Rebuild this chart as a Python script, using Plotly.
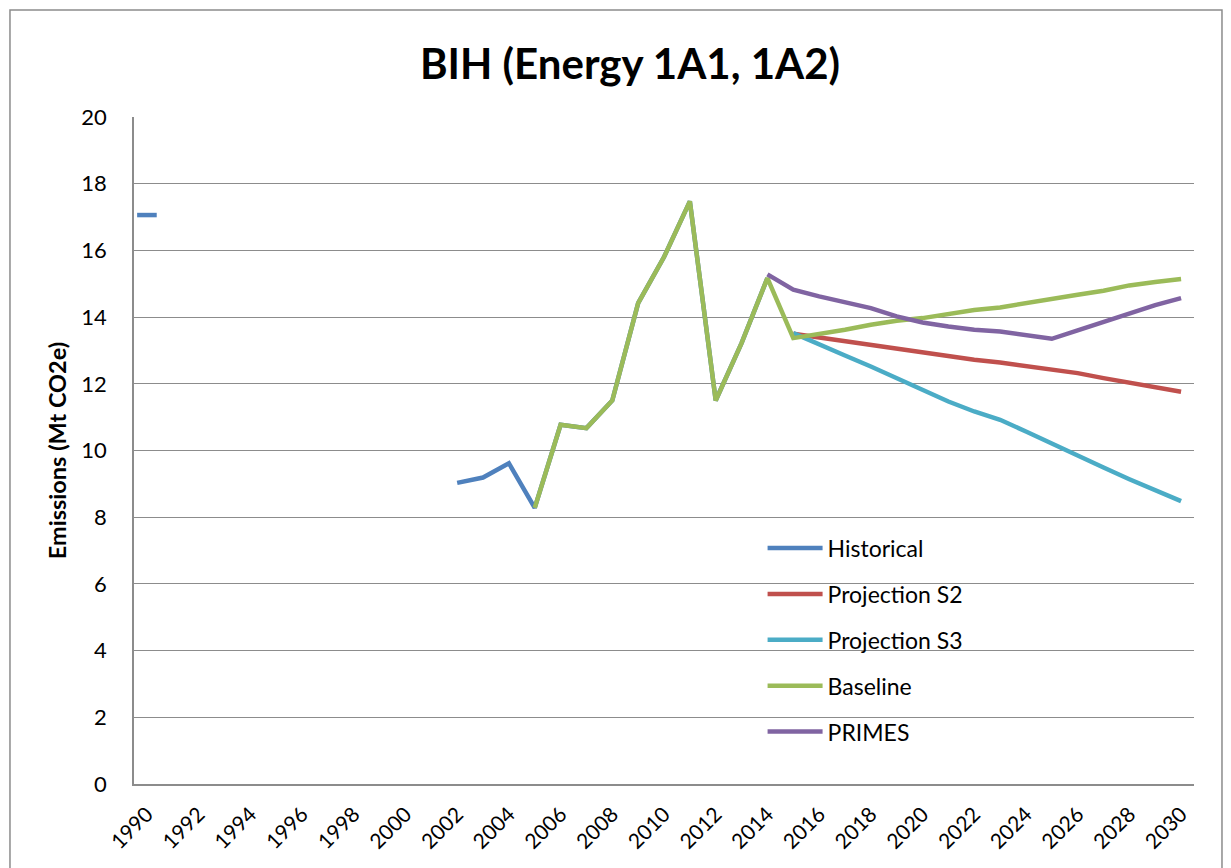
import plotly.graph_objects as go

# =========================
# DATA
# =========================
years = [str(y) for y in range(1990, 2031)]

# values by year, None where the series has no point
historical = (
    [17.06] + [None] * 11
    + [9.03, 9.19, 9.62, 8.28, 10.77, 10.67, 11.50, 14.42, 15.80, 17.47, 11.50, 13.22, 15.17]
    + [None] * 16
)
projection_s2 = (
    [None] * 25
    + [13.50, 13.39, 13.25, 13.15, 13.05, 12.94, 12.84, 12.72, 12.64, 12.54,
       12.44, 12.32, 12.17, 12.04, 11.89, 11.76]
)
projection_s3 = (
    [None] * 25
    + [13.52, 13.17, 12.85, 12.52, 12.17, 11.82, 11.47, 11.17, 10.92, 10.57,
       10.20, 9.85, 9.49, 9.14, 8.81, 8.48]
)
baseline = (
    [None] * 15
    + [8.28, 10.77, 10.67, 11.50, 14.42, 15.80, 17.47, 11.50, 13.22, 15.17]
    + [13.37, 13.49, 13.62, 13.77, 13.89, 13.97, 14.09, 14.21, 14.29, 14.42,
       14.57, 14.67, 14.79, 14.95, 15.05, 15.14]
)
primes = (
    [None] * 24
    + [15.28, 14.82, 14.62, 14.45, 14.27, 14.02, 13.84, 13.72, 13.62, 13.57, 13.47,
       13.35, 13.60, 13.86, 14.12, 14.36, 14.57]
)

series = [
    ("Historical", historical, "#4F81BD"),
    ("Projection S2", projection_s2, "#C0504D"),
    ("Projection S3", projection_s3, "#4BACC6"),
    ("Baseline", baseline, "#9BBB59"),
    ("PRIMES", primes, "#8064A2"),
]

FONT = "Lato, 'Open Sans', sans-serif"

fig = go.Figure()

for name, values, color in series:
    fig.add_trace(
        go.Scatter(
            x=years,
            y=values,
            mode="lines",
            name=name,
            legendgroup=name,
            line=dict(color=color, width=4.5),
            connectgaps=False,
        )
    )

# isolated 1990 historical point shows as a short dash
fig.add_trace(
    go.Scatter(
        x=years[:1],
        y=historical[:1],
        mode="markers",
        showlegend=False,
        marker=dict(symbol="line-ew", size=14, line=dict(color="#4F81BD", width=4.5)),
    )
)

fig.update_layout(
    width=1223,
    height=860,
    paper_bgcolor="white",
    plot_bgcolor="white",
    margin=dict(l=126, r=37, t=109, b=84),
    font=dict(family=FONT, color="#000000"),
    title=dict(
        text="<b>BIH (Energy 1A1, 1A2)</b>",
        font=dict(size=42, family=FONT),
        x=0.5086,
        xanchor="center",
        y=0.934,
        yanchor="middle",
    ),
    legend=dict(
        x=0.593,
        y=0.386,
        xanchor="left",
        yanchor="top",
        bgcolor="rgba(0,0,0,0)",
        font=dict(size=23, family=FONT),
        tracegroupgap=13,
        itemwidth=55,
    ),
    shapes=[
        dict(
            type="rect",
            xref="paper",
            yref="paper",
            x0=-0.117,
            x1=1.0264,
            y0=-0.14,
            y1=1.1604,
            line=dict(color="#8C8C8C", width=1.5),
        )
    ],
)

fig.update_xaxes(
    type="category",
    range=[-0.5, 40.5],
    dtick=2,
    tickangle=-45,
    tickfont=dict(size=21, family=FONT),
    showgrid=False,
    showline=True,
    linecolor="#8C8C8C",
    linewidth=1.5,
    ticks="",
    ticklabelstandoff=8,
)

fig.update_yaxes(
    range=[0, 20],
    dtick=2,
    tickfont=dict(size=22, family=FONT),
    showgrid=True,
    gridcolor="#8C8C8C",
    gridwidth=1.2,
    showline=True,
    linecolor="#8C8C8C",
    linewidth=1.5,
    zeroline=False,
    ticks="",
    ticklabelstandoff=21,
    title=dict(
        text="<b>Emissions (Mt CO2e)</b>",
        font=dict(size=23.5, family=FONT),
        standoff=8,
    ),
)

fig.write_html("out.html")
